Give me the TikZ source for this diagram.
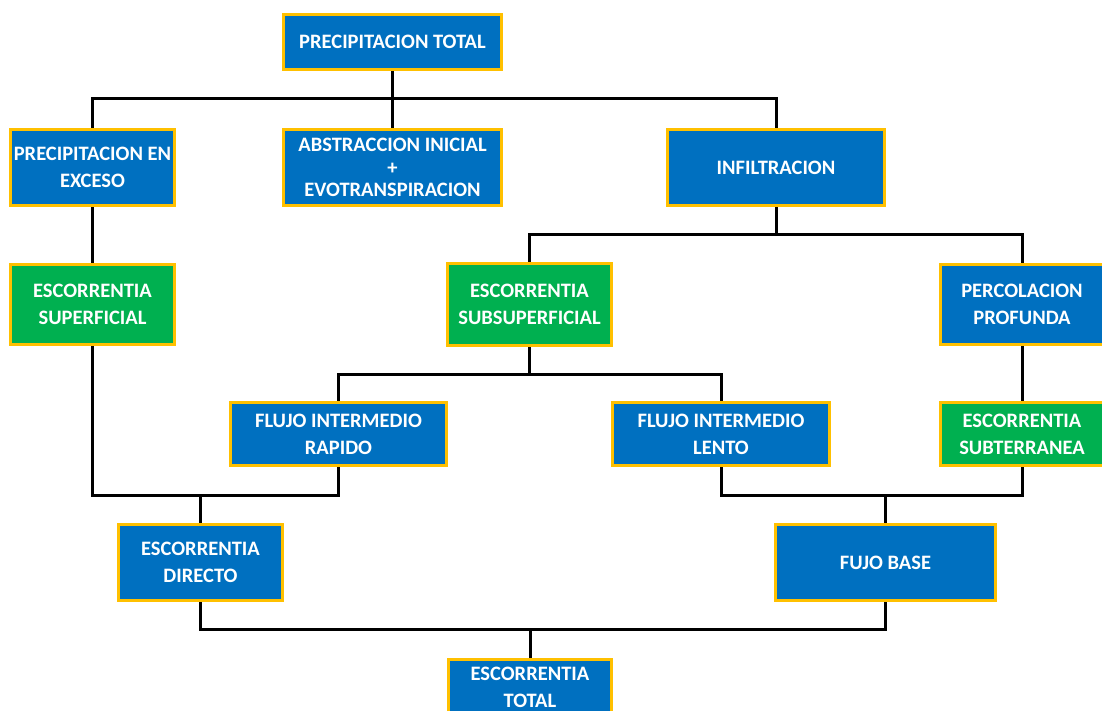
\documentclass[tikz,border=0pt]{standalone}
\usepackage{fontspec}
\setmainfont{Carlito}
\usetikzlibrary{backgrounds}
\definecolor{boxblue}{HTML}{0070C0}
\definecolor{boxgreen}{HTML}{00B050}
\definecolor{boxyellow}{HTML}{FFC000}
\tikzset{
  box/.style={draw=boxyellow, line width=3pt, text=white, align=center, inner sep=0pt,
    font=\fontsize{20.5}{27}\selectfont\bfseries},
  bluebox/.style={box, fill=boxblue},
  greenbox/.style={box, fill=boxgreen},
  conn/.style={line width=3pt, black},
}
\newcommand{\bx}[6]{% style, name, cx, cy, w, h
  \node[#1, minimum width=#5pt, minimum height=#6pt] (#2) at (#3,#4)}
\begin{document}
\begin{tikzpicture}[x=1pt,y=-1pt]
\useasboundingbox (0,0) rectangle (1102,711);
\clip (0,0) rectangle (1102,711);
\bx{bluebox}{pt}{392.5}{42}{218}{55} {PRECIPITACION TOTAL};
\bx{bluebox}{pe}{92.5}{167.5}{164}{76} {PRECIPITACION EN\\EXCESO};
\bx{bluebox, font=\fontsize{20.5}{22.5}\selectfont\bfseries}{ab}{392.5}{167.5}{218}{76} {ABSTRACCION INICIAL\\+\\EVOTRANSPIRACION};
\bx{bluebox}{inf}{776}{167.5}{217}{76} {INFILTRACION};
\bx{greenbox}{es}{92.5}{304.5}{164}{80} {ESCORRENTIA\\SUPERFICIAL};
\bx{greenbox}{ess}{529.5}{304.5}{164}{82} {ESCORRENTIA\\SUBSUPERFICIAL};
\bx{bluebox}{pp}{1022}{304.5}{163}{80} {PERCOLACION\\PROFUNDA};
\bx{bluebox}{fir}{338.5}{434}{216}{63} {FLUJO INTERMEDIO\\RAPIDO};
\bx{bluebox}{fil}{721}{434}{217}{63} {FLUJO INTERMEDIO\\LENTO};
\bx{greenbox}{est}{1022}{434}{163}{63} {ESCORRENTIA\\SUBTERRANEA};
\bx{bluebox}{ed}{200.5}{562.5}{164}{76} {ESCORRENTIA\\DIRECTO};
\bx{bluebox}{fb}{885.5}{562.5}{220}{76} {FUJO BASE};
\bx{bluebox}{et}{530}{687}{163}{55} {ESCORRENTIA\\TOTAL};
\coordinate (j1) at (392.5,99);
\coordinate (j2) at (776,235);
\coordinate (j3) at (529.5,374);
\coordinate (j4) at (200.5,495);
\coordinate (j5) at (885.5,495);
\coordinate (j6) at (530,629);
\begin{scope}[on background layer]
\fill[white] (0,0) rectangle (1102,711);
\draw[conn] (pt.south) -- (j1);
\draw[conn] (pe.north) -- (pe.north |- j1) -- (inf.north |- j1) -- (inf.north);
\draw[conn] (j1) -- (ab.north);
\draw[conn] (pe.south) -- (es.north);
\draw[conn] (inf.south) -- (j2);
\draw[conn] (ess.north) -- (ess.north |- j2) -- (pp.north |- j2) -- (pp.north);
\draw[conn] (ess.south) -- (j3);
\draw[conn] (fir.north) -- (fir.north |- j3) -- (fil.north |- j3) -- (fil.north);
\draw[conn] (pp.south) -- (est.north);
\draw[conn] (es.south) -- (es.south |- j4) -- (fir.south |- j4) -- (fir.south);
\draw[conn] (j4) -- (ed.north);
\draw[conn] (fil.south) -- (fil.south |- j5) -- (est.south |- j5) -- (est.south);
\draw[conn] (j5) -- (fb.north);
\draw[conn] (ed.south) -- (ed.south |- j6) -- (fb.south |- j6) -- (fb.south);
\draw[conn] (j6) -- (et.north);
\end{scope}
\end{tikzpicture}
\end{document}
